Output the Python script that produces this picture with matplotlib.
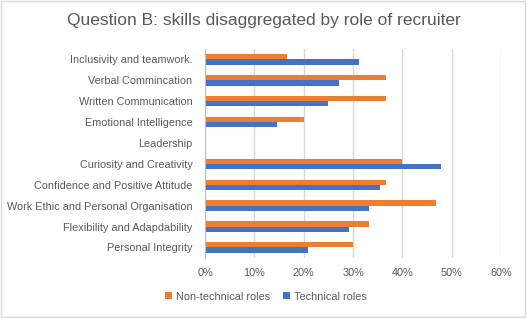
import matplotlib.pyplot as plt
import numpy as np
from matplotlib.patches import Rectangle
from matplotlib.ticker import PercentFormatter

# skills, top to bottom as in the chart
skills = ['Inclusivity and teamwork.', 'Verbal Commincation', 'Written Communication',
          'Emotional Intelligence', 'Leadership', 'Curiosity and Creativity',
          'Confidence and Positive Attitude', 'Work Ethic and Personal Organisation',
          'Flexibility and Adapdability', 'Personal Integrity']
non_technical = [16.7, 36.7, 36.7, 20.0, 0, 40.0, 36.7, 46.7, 33.3, 30.0]
technical = [31.2, 27.1, 25.0, 14.6, 0, 47.9, 35.4, 33.3, 29.2, 20.8]

orange = '#ED7D31'
blue = '#4472C4'
txt = '#595959'

plt.rcParams['font.family'] = ['Liberation Sans', 'DejaVu Sans']

fig = plt.figure(figsize=(5.27, 3.18), dpi=100)
ax = fig.add_axes([0.389, 0.189, 0.562, 0.657])

y = np.arange(len(skills))
h = 0.25
ax.barh(y - h / 2, non_technical, height=h, color=orange, label='Non-technical roles')
ax.barh(y + h / 2, technical, height=h, color=blue, label='Technical roles')

ax.set_xlim(0, 60)
ax.set_ylim(len(skills) - 0.5, -0.5)
ax.set_xticks(np.arange(0, 61, 10))
ax.xaxis.set_major_formatter(PercentFormatter(decimals=0))
ax.set_yticks(y)
ax.set_yticklabels(skills)
ax.tick_params(axis='both', length=0, labelsize=7.8, colors=txt)
ax.tick_params(axis='x', pad=7)
ax.tick_params(axis='y', pad=9)
ax.grid(axis='x', color='#D9D9D9', linewidth=1)
ax.set_axisbelow(True)
for s in ['top', 'right', 'bottom']:
    ax.spines[s].set_visible(False)
ax.spines['left'].set_color('#BFBFBF')

fig.text(0.5, 0.937, 'Question B: skills disaggregated by role of recruiter',
         ha='center', va='center', fontsize=12.5, color=txt)

fig.legend(loc='center', bbox_to_anchor=(0.505, 0.067), ncol=2, frameon=False,
           fontsize=7.8, labelcolor=txt, handlelength=0.6, handleheight=0.6,
           columnspacing=1.2, handletextpad=0.4)

fig.patches.append(Rectangle((0.002, 0.003), 0.995, 0.994, transform=fig.transFigure,
                             fill=False, edgecolor='#D9D9D9', linewidth=1))

fig.savefig('out.png', dpi=100)
